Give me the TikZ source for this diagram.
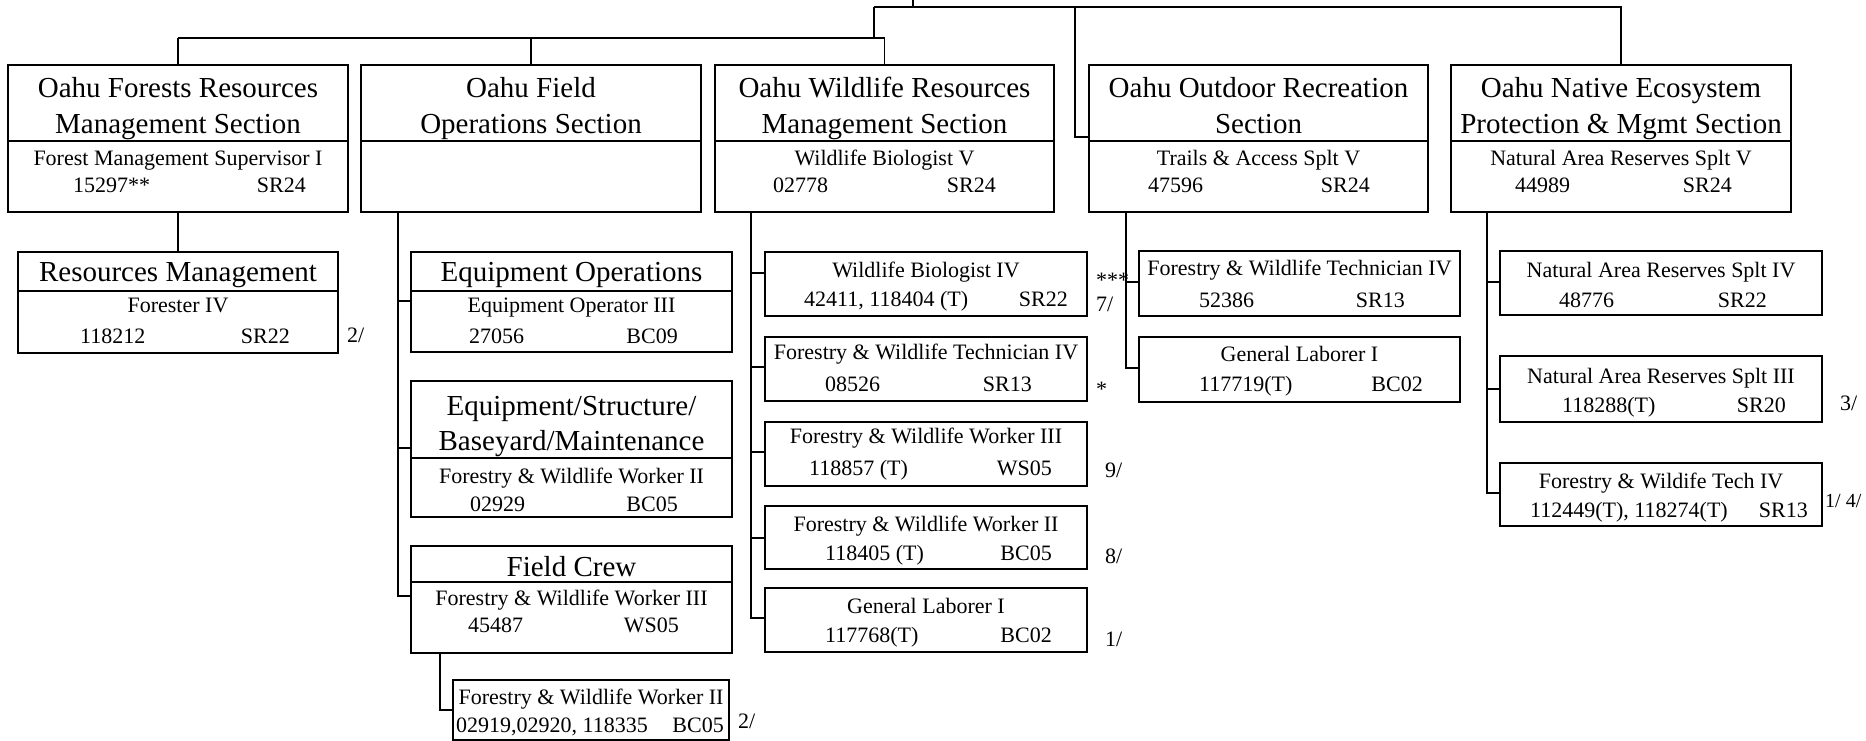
\documentclass[tikz,border=0pt]{standalone}
\usepackage{fontspec}
\setmainfont{Liberation Serif}
\newcommand{\mybx}[5]{\node[box, minimum width=#4pt, minimum height=#5pt] (#1) at (#2,#3) {};}
\newcommand{\hdc}[4]{\node[ht] (#1) at (#2,#3) {#4};}
\newcommand{\txc}[4]{\node[bt] (#1) at (#2,#3) {#4};}
\newcommand{\txl}[4]{\node[btl] (#1) at (#2,#3) {#4};}
\newcommand{\txr}[4]{\node[btr] (#1) at (#2,#3) {#4};}
\begin{document}
\begin{tikzpicture}[x=1pt,y=-1pt,
  box/.style={draw, line width=2pt, inner sep=0pt, outer sep=0pt, anchor=north west, rectangle},
  conn/.style={line width=1.5pt},
  ht/.style={font=\fontsize{29}{34}\selectfont, inner sep=0pt, anchor=base},
  bt/.style={font=\fontsize{22}{26}\selectfont, inner sep=0pt, anchor=base},
  btl/.style={bt, anchor=base west},
  btr/.style={bt, anchor=base east},
  note/.style={font=\fontsize{20}{24}\selectfont, inner sep=0pt, anchor=base west}]
\useasboundingbox[fill=white] (0,0) rectangle (1866,741);

% ---- top row boxes ----
\mybx{b1h}{8}{65}{340}{76} \mybx{b1b}{8}{141}{340}{71}
\mybx{b2h}{361}{65}{340}{76} \mybx{b2b}{361}{141}{340}{71}
\mybx{b3h}{715}{65}{339}{76} \mybx{b3b}{715}{141}{339}{71}
\mybx{b4h}{1089}{65}{339}{76} \mybx{b4b}{1089}{141}{339}{71}
\mybx{b5h}{1451}{65}{340}{76} \mybx{b5b}{1451}{141}{340}{71}

\hdc{b1t1}{178}{98}{Oahu Forests Resources} \hdc{b1t2}{178}{134}{Management Section}
\hdc{b2t1}{531}{98}{Oahu Field} \hdc{b2t2}{531}{134}{Operations Section}
\hdc{b3t1}{884.5}{98}{Oahu Wildlife Resources} \hdc{b3t2}{884.5}{134}{Management Section}
\hdc{b4t1}{1258.5}{98}{Oahu Outdoor Recreation} \hdc{b4t2}{1258.5}{134}{Section}
\hdc{b5t1}{1621}{98}{Oahu Native Ecosystem} \hdc{b5t2}{1621}{134}{Protection \& Mgmt Section}

\txc{b1s}{178}{165}{Forest Management Supervisor I} \txl{b1n}{73}{193}{15297**} \txr{b1g}{306}{193}{SR24}
\txc{b3s}{884.5}{165}{Wildlife Biologist V} \txl{b3n}{773}{193}{02778} \txr{b3g}{996}{193}{SR24}
\txc{b4s}{1258.5}{165}{Trails \& Access Splt V} \txl{b4n}{1148}{193}{47596} \txr{b4g}{1370}{193}{SR24}
\txc{b5s}{1621}{165}{Natural Area Reserves Splt V} \txl{b5n}{1515}{193}{44989} \txr{b5g}{1732}{193}{SR24}

% ---- forests child ----
\mybx{rmh}{18}{252}{320}{39} \mybx{rmb}{18}{291}{320}{62}
\hdc{rmt}{178}{281}{Resources Management}
\txc{rms}{178}{312}{Forester IV} \txl{rmn}{80}{343}{118212} \txr{rmg}{290}{343}{SR22}
\txl{rmx}{347}{342}{2/}

% ---- field operations children ----
\mybx{eoh}{411}{252}{321}{39} \mybx{eob}{411}{291}{321}{61}
\hdc{eot}{571.5}{281}{Equipment Operations}
\txc{eos}{571.5}{312}{Equipment Operator III} \txl{eon}{469}{343}{27056} \txr{eog}{678}{343}{BC09}

\mybx{esh}{411}{381}{321}{77} \mybx{esb}{411}{458}{321}{59}
\hdc{est1}{571.5}{415}{Equipment/Structure/} \hdc{est2}{571.5}{450}{Baseyard/Maintenance}
\txc{ess}{571.5}{483}{Forestry \& Wildlife Worker II} \txl{esn}{470}{511}{02929} \txr{esg}{678}{511}{BC05}

\mybx{fch}{411}{546}{321}{36} \mybx{fcb}{411}{582}{321}{71}
\hdc{fct}{571.5}{576}{Field Crew}
\txc{fcs}{571.5}{605}{Forestry \& Wildlife Worker III} \txl{fcn}{468}{632}{45487} \txr{fcg}{679}{632}{WS05}

\mybx{sub}{453}{680}{276}{60}
\txc{subs}{591}{704}{Forestry \& Wildlife Worker II} \txl{subn}{456}{732}{02919,02920, 118335} \txr{subg}{724}{732}{BC05}
\txl{subx}{738}{728}{2/}

% ---- wildlife children ----
\mybx{c31}{765}{252}{322}{64}
\txc{c31s}{926}{277}{Wildlife Biologist IV} \txl{c31n}{804}{306}{42411, 118404 (T)} \txr{c31g}{1068}{306}{SR22}
\txl{c31x}{1096}{311}{7/} \txl{ast3}{1096}{287}{***}
\mybx{c32}{765}{337}{322}{64}
\txc{c32s}{926}{359}{Forestry \& Wildlife Technician IV} \txl{c32n}{825}{391}{08526} \txr{c32g}{1032}{391}{SR13}
\txl{c32x}{1096}{396}{*}
\mybx{c33}{765}{422}{322}{64}
\txc{c33s}{926}{443}{Forestry \& Wildlife Worker III} \txl{c33n}{809}{475}{118857 (T)} \txr{c33g}{1052}{475}{WS05}
\txl{c33x}{1105}{477}{9/}
\mybx{c34}{765}{506}{322}{63}
\txc{c34s}{926}{531}{Forestry \& Wildlife Worker II} \txl{c34n}{825}{560}{118405 (T)} \txr{c34g}{1052}{560}{BC05}
\txl{c34x}{1105}{563}{8/}
\mybx{c35}{765}{588}{322}{64}
\txc{c35s}{926}{613}{General Laborer I} \txl{c35n}{825}{642}{117768(T)} \txr{c35g}{1052}{642}{BC02}
\txl{c35x}{1105}{646}{1/}

% ---- outdoor recreation children ----
\mybx{c41}{1139}{251}{321}{65}
\txc{c41s}{1299.5}{275}{Forestry \& Wildlife Technician IV} \txl{c41n}{1199}{307}{52386} \txr{c41g}{1405}{307}{SR13}
\mybx{c42}{1139}{337}{321}{65}
\txc{c42s}{1299.5}{361}{General Laborer I} \txl{c42n}{1199}{391}{117719(T)} \txr{c42g}{1423}{391}{BC02}

% ---- native ecosystem children ----
\mybx{c51}{1500}{251}{322}{64}
\txc{c51s}{1661}{277}{Natural Area Reserves Splt IV} \txl{c51n}{1559}{307}{48776} \txr{c51g}{1767}{307}{SR22}
\mybx{c52}{1500}{356}{322}{66}
\txc{c52s}{1661}{383}{Natural Area Reserves Splt III} \txl{c52n}{1562}{412}{118288(T)} \txr{c52g}{1786}{412}{SR20}
\txl{c52x}{1840}{410}{3/}
\mybx{c53}{1500}{463}{322}{63}
\txc{c53s}{1661}{488}{Forestry \& Wildife Tech IV} \txl{c53n}{1530}{517}{112449(T), 118274(T)} \txr{c53g}{1808}{517}{SR13}
\node[note] (c53x) at (1825,507) {1/ 4/};

% ---- connectors ----
\coordinate (root) at (913,0);
\coordinate (tb) at (874,7);
\coordinate (mb) at (874,38);
\coordinate (b4j) at (1075,7);
\draw[conn] (root) -- (root |- tb);
\draw[conn] (tb) -- (b5h.north |- tb) -- (b5h.north);
\draw[conn] (tb) -- (mb);
\draw[conn] (b1h.north |- mb) -- (b3h.north |- mb);
\draw[conn] (b1h.north |- mb) -- (b1h.north);
\draw[conn] (b2h.north |- mb) -- (b2h.north);
\draw[conn] (b3h.north |- mb) -- (b3h.north);
\draw[conn] (b4j) |- ([yshift=4pt]b4h.south west);

\draw[conn] (b1b.south) -- (rmh.north);

\coordinate (b2d) at (398,212);
\draw[conn] (b2d) |- ([yshift=-10pt]eob.north west);
\draw[conn] (b2d) |- ([yshift=10pt]esh.south west);
\draw[conn] (b2d) |- ([yshift=-14pt]fcb.north west);
\coordinate (fcd) at (440,653);
\draw[conn] (fcd) |- (sub.west);

\coordinate (b3d) at (751,212);
\draw[conn] (b3d) |- ([yshift=-21pt]c31.north west);
\draw[conn] (b3d) |- ([yshift=-30pt]c32.north west);
\draw[conn] (b3d) |- ([yshift=-30pt]c33.north west);
\draw[conn] (b3d) |- ([yshift=-32pt]c34.north west);
\draw[conn] (b3d) |- ([yshift=-30pt]c35.north west);

\coordinate (b4d) at (1126,212);
\draw[conn] (b4d) |- ([yshift=-31pt]c41.north west);
\draw[conn] (b4d) |- ([yshift=-31pt]c42.north west);

\coordinate (b5d) at (1487,212);
\draw[conn] (b5d) |- ([yshift=-31pt]c51.north west);
\draw[conn] (b5d) |- ([yshift=-33pt]c52.north west);
\draw[conn] (b5d) |- ([yshift=-30pt]c53.north west);
\end{tikzpicture}
\end{document}
